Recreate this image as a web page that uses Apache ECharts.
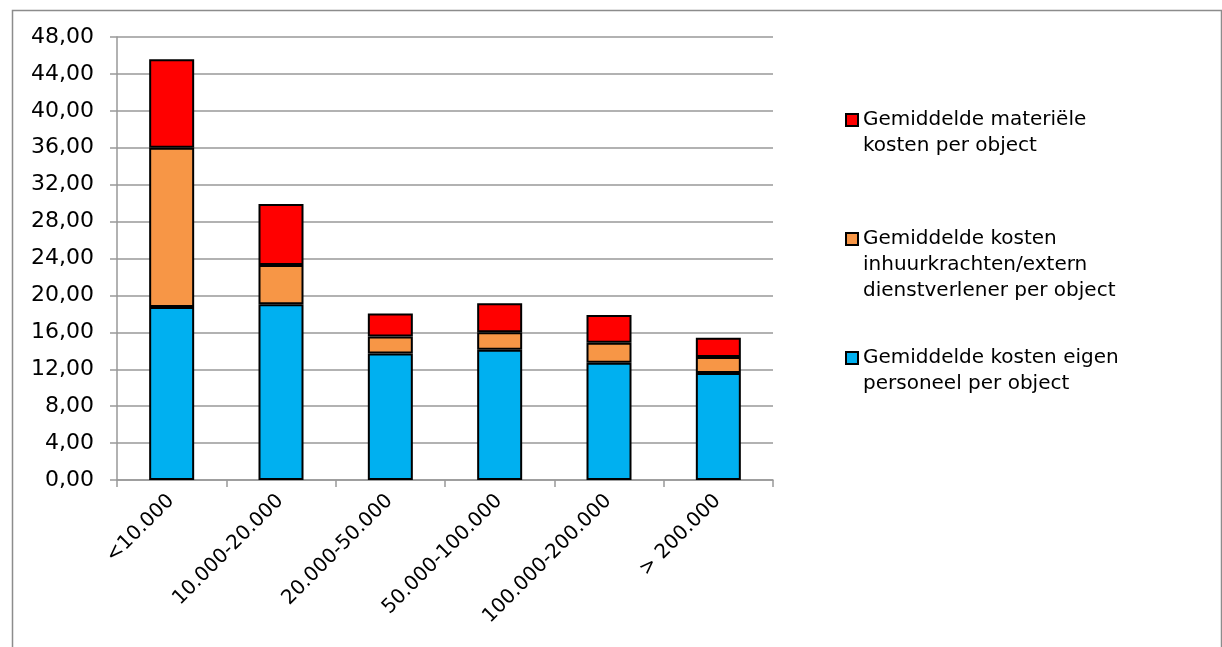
<!DOCTYPE html>
<html>
<head>
<meta charset="utf-8">
<style>
  html, body { margin: 0; padding: 0; background: #fff; }
  #chart { width: 1222px; height: 647px; }
</style>
<script src="https://cdn.jsdelivr.net/npm/echarts@6/dist/echarts.min.js"></script>
</head>
<body>
<div id="chart"></div>
<script>
// ---- Data ----
const categories = ['<10.000', '10.000-20.000', '20.000-50.000', '50.000-100.000', '100.000-200.000', '> 200.000'];
const eigenPersoneel = [18.75, 19.05, 13.7, 14.1, 12.7, 11.6];
const inhuur = [17.25, 4.25, 1.85, 1.9, 2.18, 1.73];
const materieel = [9.6, 6.6, 2.5, 3.14, 3.0, 2.09];
const seriesNames = [
  'Gemiddelde kosten eigen\npersoneel per object',
  'Gemiddelde kosten\ninhuurkrachten/extern\ndienstverlener per object',
  'Gemiddelde materiële\nkosten per object'
];
const yTicks = { min: 0, max: 48, interval: 4 };

const FONT = 'DejaVu Sans';
const chart = echarts.init(document.getElementById('chart'));

function barSeries(name, data, color) {
  return {
    name: name, type: 'bar', stack: 'total', data: data, barWidth: 45,
    itemStyle: { color: color, borderColor: '#000', borderWidth: 2 }
  };
}

// icon is centred on the text block; prepend empty lines so it sits on the first line
function legendFor(name, top) {
  const lines = name.split('\n').length;
  return {
    data: [name], left: 845, top: top, padding: 0,
    itemWidth: 12, itemHeight: 12, icon: 'rect', selectedMode: false,
    formatter: n => '\n'.repeat(lines - 1) + n,
    textStyle: { fontFamily: FONT, fontSize: 20, lineHeight: 26, color: '#000' }
  };
}

chart.setOption({
  animation: false,
  textStyle: { fontFamily: FONT },
  graphic: [{
    type: 'rect', left: 10, top: 8, silent: true,
    shape: { width: 1209, height: 700 },
    style: { fill: 'none', stroke: '#8c8c8c', lineWidth: 1.5 }
  }],
  grid: { left: 117, right: 449, top: 37, bottom: 167, containLabel: false },
  legend: [
    legendFor(seriesNames[2], 81),
    legendFor(seriesNames[1], 174),
    legendFor(seriesNames[0], 319)
  ],
  xAxis: {
    type: 'category', data: categories,
    axisLine: { lineStyle: { color: '#999', width: 1.5 } },
    axisTick: { show: true, length: 7, lineStyle: { color: '#999', width: 1.5 } },
    axisLabel: { rotate: 45, margin: 17, fontSize: 20, color: '#000', fontFamily: FONT, interval: 0,
                 padding: [0, 1, 0, 0] }
  },
  yAxis: {
    type: 'value', min: yTicks.min, max: yTicks.max, interval: yTicks.interval,
    axisLine: { show: true, lineStyle: { color: '#999', width: 1.5 } },
    axisTick: { show: true, length: 7, lineStyle: { color: '#999', width: 1.5 } },
    splitLine: { lineStyle: { color: '#999', width: 1.5 } },
    axisLabel: {
      margin: 23, fontSize: 22, color: '#000', fontFamily: FONT,
      formatter: v => v.toFixed(2).replace('.', ',')
    }
  },
  series: [
    barSeries(seriesNames[0], eigenPersoneel, '#00B0F0'),
    barSeries(seriesNames[1], inhuur, '#F79646'),
    barSeries(seriesNames[2], materieel, '#FF0000')
  ]
});
</script>
</body>
</html>
